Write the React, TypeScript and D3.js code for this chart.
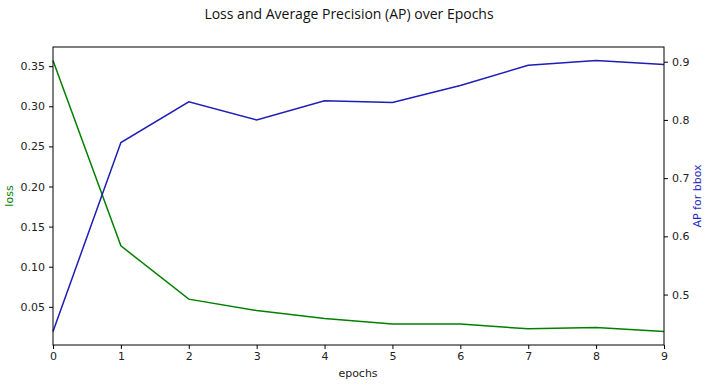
import React, { useEffect, useRef } from "react";
import * as d3 from "d3";

const epochs = [0, 1, 2, 3, 4, 5, 6, 7, 8, 9];
const lossValues = [0.357, 0.126, 0.0596, 0.0454, 0.0354, 0.0285, 0.0285, 0.0226, 0.0242, 0.0193];
const apValues = [0.4366, 0.761, 0.831, 0.8, 0.833, 0.83, 0.859, 0.894, 0.902, 0.895];
const lossTicks = [0.05, 0.1, 0.15, 0.2, 0.25, 0.3, 0.35];
const apTicks = [0.5, 0.6, 0.7, 0.8, 0.9];

const App = () => {
  const chartRef = useRef<SVGSVGElement>(null);

  useEffect(() => {
    const svg = d3.select(chartRef.current);
    const width = 709;
    const height = 385;
    const margin = { top: 47, right: 45, bottom: 40, left: 53 };
    const innerWidth = width - margin.left - margin.right;
    const innerHeight = height - margin.top - margin.bottom;

    svg.selectAll("*").remove();

    const font = "DejaVu Sans, sans-serif";
    const green = "#008000";
    const blue = "#1e1eb4";

    const xScale = d3.scaleLinear().domain([0, 9]).range([0, innerWidth]);

    // matplotlib-style 5% margins
    const pad = (vals: number[]) => {
      const lo = d3.min(vals)!;
      const hi = d3.max(vals)!;
      const m = (hi - lo) * 0.05;
      return [lo - m, hi + m];
    };

    const yLoss = d3.scaleLinear().domain(pad(lossValues)).range([innerHeight, 0]);
    const yAp = d3.scaleLinear().domain(pad(apValues)).range([innerHeight, 0]);

    const g = svg.append("g").attr("transform", `translate(${margin.left},${margin.top})`);

    // Lines
    const lossLine = d3
      .line<number>()
      .x((d, i) => xScale(epochs[i]))
      .y((d) => yLoss(d));
    const apLine = d3
      .line<number>()
      .x((d, i) => xScale(epochs[i]))
      .y((d) => yAp(d));

    g.append("path")
      .datum(lossValues)
      .attr("d", lossLine)
      .attr("fill", "none")
      .attr("stroke", green)
      .attr("stroke-width", 1.5);

    g.append("path")
      .datum(apValues)
      .attr("d", apLine)
      .attr("fill", "none")
      .attr("stroke", blue)
      .attr("stroke-width", 1.5);

    // Frame
    g.append("rect")
      .attr("width", innerWidth)
      .attr("height", innerHeight)
      .attr("fill", "none")
      .attr("stroke", "#000")
      .attr("stroke-width", 1);

    const styleAxis = (sel: any) => {
      sel.select(".domain").remove();
      sel.selectAll(".tick line").attr("stroke", "#000");
      sel.selectAll(".tick text")
        .style("font-family", font)
        .style("font-size", "11px")
        .attr("fill", "#222");
    };

    // X Axis
    g.append("g")
      .attr("transform", `translate(0, ${innerHeight})`)
      .call(d3.axisBottom(xScale).tickValues(epochs).tickFormat(d3.format("d")).tickSize(4).tickPadding(3))
      .call(styleAxis);

    // Left Axis
    g.append("g")
      .call(d3.axisLeft(yLoss).tickValues(lossTicks).tickFormat(d3.format(".2f")).tickSize(4).tickPadding(4))
      .call(styleAxis);

    // Right Axis
    g.append("g")
      .attr("transform", `translate(${innerWidth}, 0)`)
      .call(d3.axisRight(yAp).tickValues(apTicks).tickFormat(d3.format(".1f")).tickSize(4).tickPadding(4))
      .call(styleAxis);

    // Labels
    svg.append("text")
      .attr("x", 358)
      .attr("y", 377)
      .attr("text-anchor", "middle")
      .style("font-family", font)
      .style("font-size", "11px")
      .attr("fill", "#222")
      .text("epochs");

    svg.append("text")
      .attr("transform", `translate(13, ${margin.top + innerHeight / 2}) rotate(-90)`)
      .attr("text-anchor", "middle")
      .style("font-family", font)
      .style("font-size", "11px")
      .attr("fill", green)
      .text("loss");

    svg.append("text")
      .attr("transform", `translate(701, ${margin.top + innerHeight / 2}) rotate(-90)`)
      .attr("text-anchor", "middle")
      .style("font-family", font)
      .style("font-size", "11px")
      .attr("fill", "#2a2ac0")
      .text("AP for bbox");

    // Title
    svg.append("text")
      .attr("x", 349)
      .attr("y", 19)
      .attr("text-anchor", "middle")
      .style("font-family", "Open Sans, sans-serif")
      .style("font-size", "14px")
      .attr("fill", "#111")
      .text("Loss and Average Precision (AP) over Epochs");
  }, []);

  return <svg ref={chartRef} width={709} height={385} style={{ display: "block", position: "absolute", left: 0, top: 0 }}></svg>;
};

export default App;
